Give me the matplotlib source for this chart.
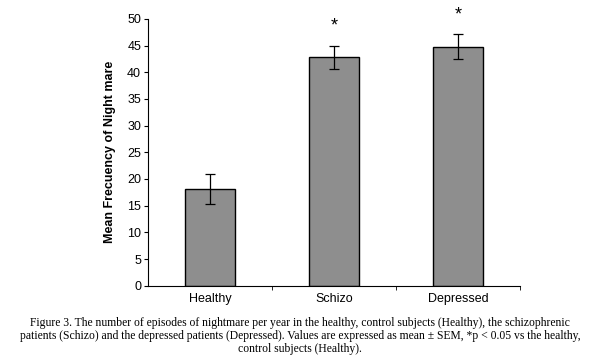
import numpy as np
import matplotlib.pyplot as plt

groups = ['Healthy', 'Schizo', 'Depressed']
means = [18.1, 42.8, 44.8]
sem = [2.8, 2.2, 2.3]
stars = ['', '*', '*']

caption = ("Figure 3. The number of episodes of nightmare per year in the healthy, control subjects (Healthy), the schizophrenic\n"
           "patients (Schizo) and the depressed patients (Depressed). Values are expressed as mean \u00b1 SEM, *p < 0.05 vs the healthy,\n"
           "control subjects (Healthy).")

plt.rcParams['font.family'] = ['Liberation Sans', 'DejaVu Sans']

fig = plt.figure(figsize=(6, 3.63), dpi=100)
ax = fig.add_axes([0.2467, 0.213, 0.62, 0.735])

x = np.arange(len(groups))
ax.bar(x, means, width=0.4, color='#8e8e8e', edgecolor='black', linewidth=1.0)
ax.errorbar(x, means, yerr=sem, fmt='none', ecolor='black', elinewidth=0.9, capsize=3.5, capthick=0.9)

for i, s in enumerate(stars):
    if s:
        ax.text(x[i], means[i] + sem[i] + 3.6, s, ha='center', va='center', fontsize=13)

ax.set_xlim(-0.5, 2.5)
ax.set_ylim(0, 50)
ax.set_yticks(np.arange(0, 51, 5))
ax.set_xticks(x)
ax.set_xticklabels(groups)
ax.set_xticks([0.5, 1.5, 2.5], minor=True)
ax.tick_params(axis='x', which='major', length=0, pad=5, labelsize=9)
ax.tick_params(axis='x', which='minor', length=3, direction='out')
ax.tick_params(axis='y', length=3, labelsize=9, pad=2)
ax.spines['top'].set_visible(False)
ax.spines['right'].set_visible(False)
ax.set_ylabel('Mean Frecuency of Night mare', fontsize=9, fontweight='bold', labelpad=8)

fig.text(0.5, 0.075, caption, ha='center', va='center', fontsize=8.4,
         family='Liberation Serif', linespacing=1.12)

fig.savefig('out.png', dpi=100)
